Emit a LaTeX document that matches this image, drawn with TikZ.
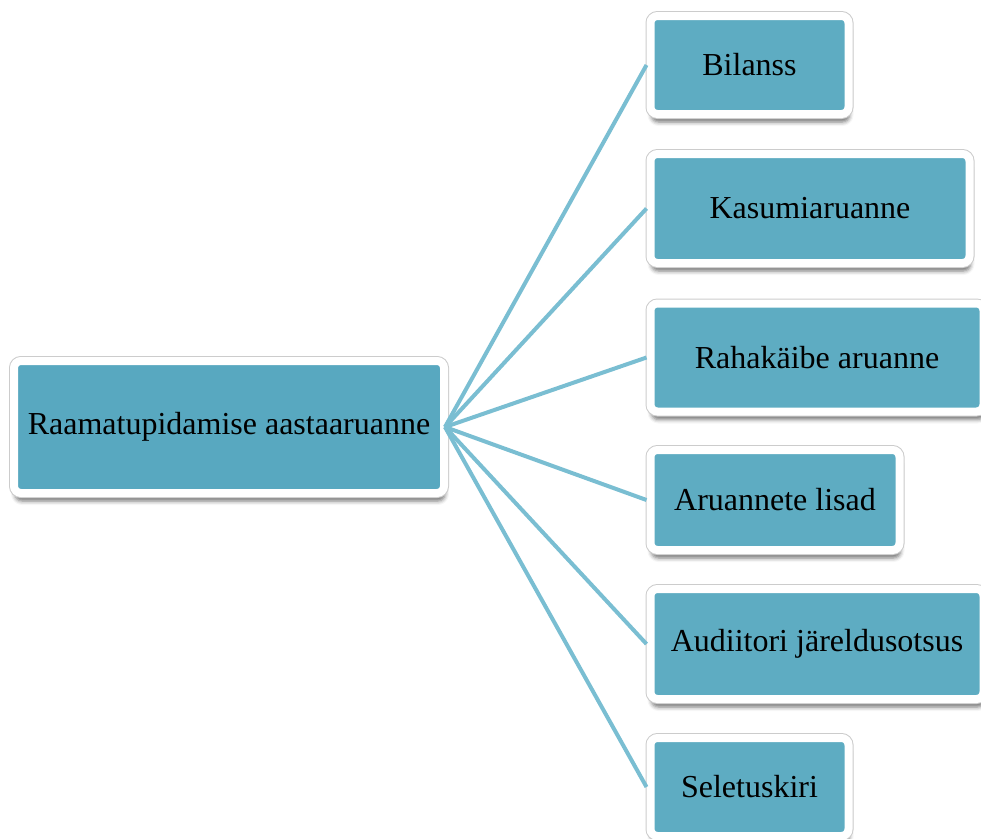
\documentclass[tikz,border=0pt]{standalone}
\usepackage{fontspec}
\setmainfont{Liberation Serif}
\usetikzlibrary{shadows.blur}
\definecolor{boxfill}{RGB}{94,172,194}
\definecolor{rootfill}{RGB}{88,168,192}
\definecolor{linkblue}{RGB}{122,190,210}
\tikzset{
  part/.style={rectangle, rounded corners=7pt, fill=boxfill, draw=white, line width=8pt,
    blur shadow={shadow xshift=1pt, shadow yshift=-8pt, shadow blur radius=4pt, shadow opacity=55},
    preaction={draw=black!20, line width=10pt},
    font=\fontsize{32}{36}\selectfont, text=black},
  link/.style={draw=linkblue, line width=4pt}
}
\begin{document}
\begin{tikzpicture}[x=1pt, y=-1pt]
            \useasboundingbox (0,0) rectangle (981,838);
            \clip (0,0) rectangle (981,838);
            \node (report) at (229,427) [part, fill=rootfill, minimum width=430pt, minimum height=132pt] {Raamatupidamise aastaaruanne};
            \node (bal) at (749.5,65) [part, minimum width=198pt, minimum height=98pt] {Bilanss};
            \node (inc) at (810,208.5) [part, minimum width=319pt, minimum height=109pt] {Kasumiaruanne};
            \node (cash) at (817,357.5) [part, minimum width=333pt, minimum height=108pt] {Rahakäibe aruanne};
            \node (notes) at (775,500) [part, minimum width=249pt, minimum height=100pt] {Aruannete lisad};
            \node (audit) at (817,644) [part, minimum width=333pt, minimum height=110pt] {Audiitori järeldusotsus};
            \node (expl) at (749.5,787) [part, minimum width=198pt, minimum height=98pt] {Seletuskiri};

            \draw[link] ([xshift=-3pt]report.east) -- (bal.west);
            \draw[link] ([xshift=-3pt]report.east) -- (inc.west);
            \draw[link] ([xshift=-3pt]report.east) -- (cash.west);
            \draw[link] ([xshift=-3pt]report.east) -- (notes.west);
            \draw[link] ([xshift=-3pt]report.east) -- (audit.west);
            \draw[link] ([xshift=-3pt]report.east) -- (expl.west);
        \end{tikzpicture}
\end{document}
